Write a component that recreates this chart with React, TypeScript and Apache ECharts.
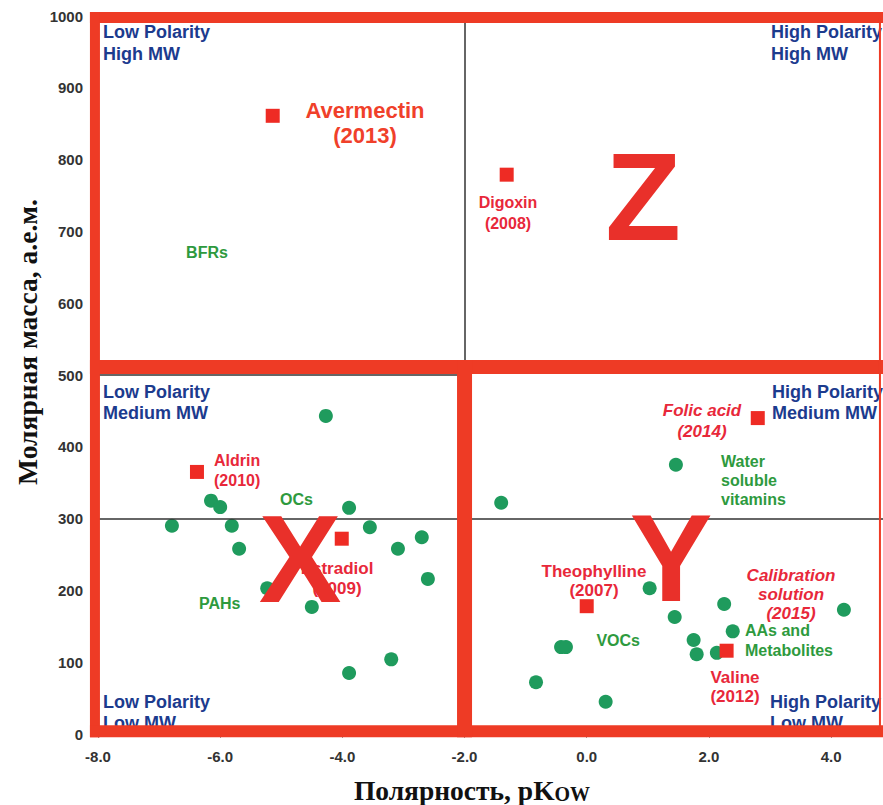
import React, { useEffect, useRef } from "react";
import * as echarts from "echarts";

// Green group points (polarity pKow, molar mass)
const greenPolarity = [-6.79, -6.15, -6.0, -5.81, -5.69, -5.23, -4.27, -4.5, -3.89, -3.55, -3.09, -2.7, -2.6, -3.89, -3.2, -1.4, -0.42, -0.34, -0.83, 0.31, 1.03, 1.44, 2.25, 2.39, 1.75, 1.8, 2.13, 4.21, 1.46];
const greenMass = [290, 325, 316, 290, 258, 203, 443, 177, 315, 288, 258, 274, 216, 85, 104, 322, 121, 121, 72, 45, 203, 163, 181, 143, 131, 111, 113, 173, 375];

// Reference compounds (red squares)
const refNames = ["Avermectin (2013)", "Digoxin (2008)", "Aldrin (2010)", "Estradiol (2009)", "Theophylline (2007)", "Folic acid (2014)", "Valine (2012)"];
const refPolarity = [-5.14, -1.31, -6.38, -4.01, 0.0, 2.8, 2.29];
const refMass = [861, 779, 365, 272, 178, 440, 116];

// Axes
const xMin = -8;
const xMax = 4.85;
const xStep = 2;
const yMin = 0;
const yMax = 1000;
const yStep = 100;

// Quadrant divider lines (data space)
const dividerX = -2;
const dividerY = 300;
const upperLimitY = 500;

// Red frame lines (data space)
const frameLeftX = -8.05;
const frameRightX = 4.8;
const frameTopY = 998;
const frameBottomY = 4;
const frameMidY = 511;
const frameMidX = -2;

const SANS = "'Liberation Sans', Arial, sans-serif";
const SERIF = "'Liberation Serif', 'Times New Roman', serif";

export default function App() {
  const ref = useRef<HTMLDivElement>(null);
  useEffect(() => {
    const chart = echarts.init(ref.current!, null, { renderer: "svg" });
    const option: any = {
      animation: false,
      grid: { left: 98, right: 0, top: 16, bottom: 71 },
      xAxis: {
        type: "value",
        min: xMin,
        max: xMax,
        interval: xStep,
        axisLine: { show: false },
        axisTick: { show: true, length: 4, lineStyle: { color: "#999" } },
        splitLine: { show: false },
        axisLabel: {
          showMaxLabel: false,
          formatter: (v: number) => (Math.abs(v % xStep) < 1e-9 ? v.toFixed(1) : ""),
          color: "#333",
          fontWeight: "bold",
          fontSize: 15,
          fontFamily: SANS,
          margin: 15,
        },
      },
      yAxis: {
        type: "value",
        min: yMin,
        max: yMax,
        interval: yStep,
        axisLine: { show: false },
        axisTick: { show: false },
        splitLine: { show: false },
        axisLabel: {
          formatter: (v: number) => String(v),
          color: "#333",
          fontWeight: "bold",
          fontSize: 15,
          fontFamily: SANS,
          margin: 15,
        },
      },
      series: [
        {
          type: "scatter",
          name: "groups",
          symbol: "circle",
          symbolSize: 14,
          itemStyle: { color: "#1f9b5d", opacity: 1 },
          data: greenPolarity.map((x, i) => [x, greenMass[i]]),
          markLine: {
            silent: true,
            symbol: "none",
            label: { show: false },
            lineStyle: { color: "#333", width: 1.5, type: "solid" },
            data: [
              { xAxis: dividerX },
              { yAxis: dividerY },
              [{ coord: [xMin, upperLimitY] }, { coord: [dividerX, upperLimitY] }],
            ],
          },
        },
        {
          type: "scatter",
          name: "compounds",
          symbol: "rect",
          symbolSize: 14,
          itemStyle: { color: "#ee2b24", opacity: 1 },
          data: refPolarity.map((x, i) => ({ name: refNames[i], value: [x, refMass[i]] })),
        },
      ],
    };
    chart.setOption(option);

    const px = (x: number) => (chart.convertToPixel({ gridIndex: 0 }, [x, 0]) as number[])[0];
    const py = (y: number) => (chart.convertToPixel({ gridIndex: 0 }, [0, y]) as number[])[1];

    const L = px(frameLeftX);
    const R = 883;
    const T = py(frameTopY);
    const B = py(frameBottomY);
    const M = py(frameMidY);
    const V = px(frameMidX);
    const RT = px(frameRightX);
    const red = "#ee3b25";
    const rect = (x: number, y: number, w: number, h: number) => ({
      type: "rect",
      z: 100,
      silent: true,
      shape: { x, y, width: w, height: h },
      style: { fill: red },
    });

    const text = (x: number, y: number, t: string, s: any) => ({
      type: "text",
      x,
      y,
      z: s.z ?? 10,
      silent: true,
      style: Object.assign({ text: t, fontFamily: SANS }, s),
    });

    const blue = { fill: "#1c3b8e", fontSize: 18, fontWeight: "bold", lineHeight: 21.5, align: "left", verticalAlign: "top" };
    const redLbl = { fill: "#e8283a", fontSize: 17, fontWeight: "bold", align: "center", verticalAlign: "top" };
    const green = { fill: "#2e9a3e", fontSize: 16, fontWeight: "bold", verticalAlign: "middle" };
    const big = { fill: "#e9302a", fontSize: 124, fontWeight: "bold", align: "center", verticalAlign: "middle", z: 50 };

    const graphic: any[] = [
      rect(L - 5, T - 5.5, R - L + 5, 11),
      rect(L - 5, T - 5.5, 10, B + 6 - (T - 5.5)),
      rect(L - 5, B - 6, R - L + 5, 12),
      rect(L - 5, M - 7, R - L + 5, 14),
      rect(V - 7.5, M - 7, 15, B + 6 - (M - 7)),
      rect(RT - 1, T, 2, B - T),

      text(103, 21.5, "Low Polarity\nHigh MW", blue),
      text(771, 21.5, "High Polarity\nHigh MW", blue),
      text(103, 381, "Low Polarity\nMedium MW", blue),
      text(772, 381, "High Polarity\nMedium MW", blue),
      text(103, 691, "Low Polarity\nLow MW", blue),
      text(770, 691, "High Polarity\nLow MW", blue),

      text(365, 97.5, "Avermectin\n(2013)", { ...redLbl, fill: "#f0402a", fontSize: 22, lineHeight: 25 }),
      text(508, 191.5, "Digoxin\n(2008)", { ...redLbl, fontSize: 16, lineHeight: 21 }),
      text(214, 450, "Aldrin\n(2010)", { ...redLbl, fontSize: 16, align: "left", lineHeight: 20 }),
      text(337, 558, "Estradiol\n(2009)", { ...redLbl, lineHeight: 20 }),
      text(594, 562, "Theophylline\n(2007)", { ...redLbl, lineHeight: 19 }),
      text(702, 400, "Folic acid\n(2014)", { ...redLbl, fontStyle: "italic", lineHeight: 21 }),
      text(791, 565.5, "Calibration\nsolution\n(2015)", { ...redLbl, fontStyle: "italic", lineHeight: 19 }),
      text(735, 667.5, "Valine\n(2012)", { ...redLbl, lineHeight: 19 }),

      text(207, 252, "BFRs", { ...green, align: "center" }),
      text(280, 499, "OCs", { ...green, align: "left" }),
      text(199, 603, "PAHs", { ...green, align: "left" }),
      text(721, 451.5, "Water\nsoluble\nvitamins", { ...green, align: "left", verticalAlign: "top", lineHeight: 19 }),
      text(640, 640, "VOCs", { ...green, align: "right" }),
      text(745, 620, "AAs and\nMetabolites", { ...green, align: "left", verticalAlign: "top", lineHeight: 20 }),

      text(643, 197, "Z", big),
      text(300, 559, "X", big),
      text(671, 558, "Y", big),

      {
        type: "text",
        x: 27,
        y: 342,
        rotation: Math.PI / 2,
        silent: true,
        style: {
          text: "Молярная масса, а.е.м.",
          fontFamily: SERIF,
          fontSize: 27.5,
          fontWeight: "bold",
          fill: "#111",
          align: "center",
          verticalAlign: "middle",
        },
      },
      {
        type: "text",
        x: 472,
        y: 790,
        silent: true,
        style: {
          text: "{a|Полярность, pK}{b|OW}",
          align: "center",
          verticalAlign: "middle",
          rich: {
            a: { fontFamily: SERIF, fontSize: 27.5, fontWeight: "bold", fill: "#111", verticalAlign: "bottom" },
            b: { fontFamily: SERIF, fontSize: 20, fontWeight: "bold", fill: "#111", verticalAlign: "bottom" },
          },
        },
      },
    ];
    chart.setOption({ graphic });
    return () => chart.dispose();
  }, []);
  return <div ref={ref} style={{ position: "absolute", left: 0, top: 0, width: 883, height: 805 }} />;
}
